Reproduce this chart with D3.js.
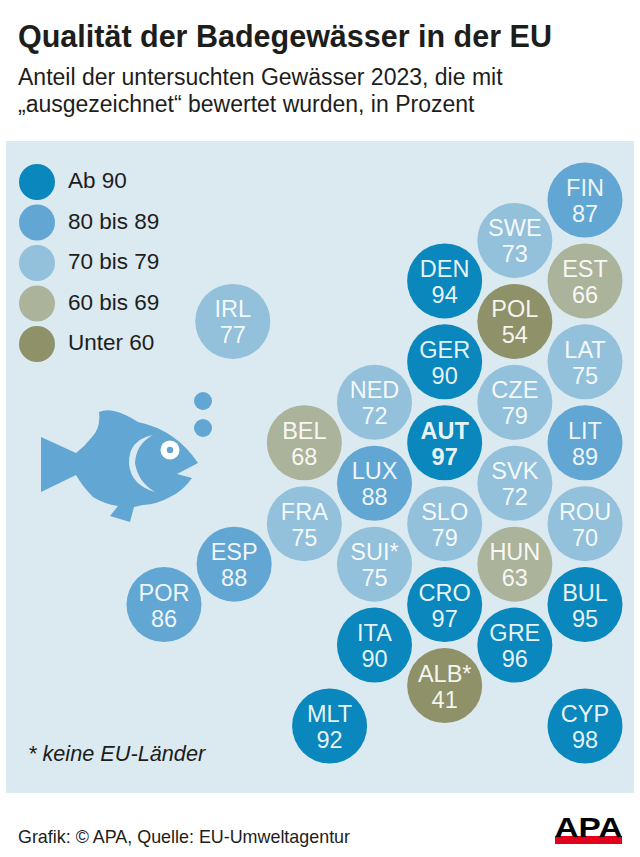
<!DOCTYPE html>
<html lang="de">
<head>
<meta charset="utf-8">
<title>Qualität der Badegewässer in der EU</title>
<script src="https://cdn.jsdelivr.net/npm/d3@7"></script>
<style>
  html, body { margin: 0; padding: 0; background: #fff; }
  svg { display: block; font-family: "Liberation Sans", Arial, sans-serif; }
</style>
</head>
<body>
<div id="chart"></div>
<script>
const countries = ["FIN","SWE","EST","DEN","POL","LAT","IRL","GER","NED","CZE","BEL","AUT","LIT","LUX","SVK","FRA","SLO","ROU","ESP","SUI*","HUN","POR","CRO","BUL","ITA","GRE","ALB*","MLT","CYP"];
const values    = [87,73,66,94,54,75,77,90,72,79,68,97,89,88,72,75,79,70,88,75,63,86,97,95,90,96,41,92,98];
// place on the honeycomb grid (column, half-row)
const gridCol   = [6,5,6,4,5,6,0.98,4,3,5,2,4,6,3,5,2,4,6,1,3,5,0,4,6,3,5,4,2.36,6];
const gridRow   = [0,1,2,2,3,4,3,4,5,5,6,6,6,7,7,8,8,8,9,9,9,10,10,10,11,11,12,13,13];

const legendLabels = ["Ab 90","80 bis 89","70 bis 79","60 bis 69","Unter 60"];
const legendSteps  = [0,1,2,3,4];
const classBreaks  = [60,70,80,90];
const classColors  = ["#8f9268","#acb39b","#93c0da","#62a6d3","#0a87bc"];

const width = 640, height = 857;

const svg = d3.select("#chart")
  .append("svg")
  .attr("width", width)
  .attr("height", height)
  .attr("viewBox", [0, 0, width, height]);

const color = d3.scaleThreshold().domain(classBreaks).range(classColors);
const x = d3.scaleLinear().domain([0, 6]).range([164, 585]);
const y = d3.scaleLinear().domain([0, 13]).range([200, 726]);
const legendY = d3.scaleLinear().domain([0, 4]).range([182, 344]);

svg.append("text").attr("x", 18).attr("y", 47)
  .attr("font-size", 30.5).attr("font-weight", "bold").attr("fill", "#1d1d1b")
  .text("Qualität der Badegewässer in der EU");
svg.append("text").attr("x", 18).attr("y", 85)
  .attr("font-size", 23).attr("fill", "#1d1d1b")
  .text("Anteil der untersuchten Gewässer 2023, die mit");
svg.append("text").attr("x", 18).attr("y", 112)
  .attr("font-size", 23).attr("fill", "#1d1d1b")
  .text("„ausgezeichnet“ bewertet wurden, in Prozent");

svg.append("rect")
  .attr("x", 6).attr("y", 141).attr("width", 628).attr("height", 652)
  .attr("fill", "#dbe9f1");

// legend
svg.append("g").selectAll("circle")
  .data(legendSteps)
  .join("circle")
  .attr("cx", 37)
  .attr("cy", d => legendY(d))
  .attr("r", 18)
  .attr("fill", d => classColors[classColors.length - 1 - d]);

svg.append("g").selectAll("text")
  .data(legendSteps)
  .join("text")
  .attr("x", 68)
  .attr("y", d => legendY(d) + 6)
  .attr("font-size", 22.5)
  .attr("fill", "#1d1d1b")
  .text(d => legendLabels[d]);

// fish
const fish = svg.append("g");
fish.append("path")
  .attr("fill", "#62a6d3")
  .attr("d", "M41,437 L76,453 Q85,446 92,437 Q101,428 99,412 Q106,409 114,411 Q126,414 138,422 " +
    "Q176,430 198,463 L177,474 L192,478 Q183,491 170,497 Q158,504 143,505 L134,507 L130,522 L110,516 L118,506 " +
    "Q104,504 93,497 Q83,487 76,475 L41,492 Z");
fish.append("path")
  .attr("fill", "#dbe9f1")
  .attr("d", "M153,435 Q128,440 129,464 Q131,485 155,492 Q138,482 135,463 Q136,444 153,435 Z");
fish.append("circle").attr("cx", 170).attr("cy", 450).attr("r", 9.5).attr("fill", "#fff");
fish.append("circle").attr("cx", 170).attr("cy", 450).attr("r", 3.2).attr("fill", "#62a6d3");
fish.append("circle").attr("cx", 203).attr("cy", 401).attr("r", 9).attr("fill", "#62a6d3");
fish.append("circle").attr("cx", 203).attr("cy", 428).attr("r", 9).attr("fill", "#62a6d3");

// country circles
const nodes = svg.append("g").selectAll("g")
  .data(countries)
  .join("g")
  .attr("transform", (d, i) => `translate(${x(gridCol[i])},${y(gridRow[i])})`);

nodes.append("circle")
  .attr("r", 37.5)
  .attr("fill", (d, i) => color(values[i]));

nodes.append("text")
  .attr("text-anchor", "middle")
  .attr("y", -4)
  .attr("font-size", 23.5)
  .attr("fill", "#fff")
  .attr("fill-opacity", 0.92)
  .attr("font-weight", d => d === "AUT" ? "bold" : "normal")
  .text(d => d);

nodes.append("text")
  .attr("text-anchor", "middle")
  .attr("y", 22)
  .attr("font-size", 23.5)
  .attr("fill", "#fff")
  .attr("fill-opacity", 0.92)
  .attr("font-weight", d => d === "AUT" ? "bold" : "normal")
  .text((d, i) => values[i]);

svg.append("text").attr("x", 28).attr("y", 761)
  .attr("font-size", 21.7).attr("font-style", "italic").attr("fill", "#1d1d1b")
  .text("* keine EU-Länder");

svg.append("text").attr("x", 18).attr("y", 843)
  .attr("font-size", 17.9).attr("fill", "#1d1d1b")
  .text("Grafik: © APA, Quelle: EU-Umweltagentur");

// APA logo
const logo = svg.append("g");
logo.append("rect").attr("x", 555).attr("y", 836).attr("width", 67).attr("height", 8).attr("fill", "#e2001a");
logo.append("text").attr("x", 588.5).attr("y", 837)
  .attr("text-anchor", "middle")
  .attr("font-size", 28).attr("font-weight", "bold").attr("fill", "#000")
  .attr("textLength", 68).attr("lengthAdjust", "spacingAndGlyphs")
  .text("APA");
</script>
</body>
</html>
